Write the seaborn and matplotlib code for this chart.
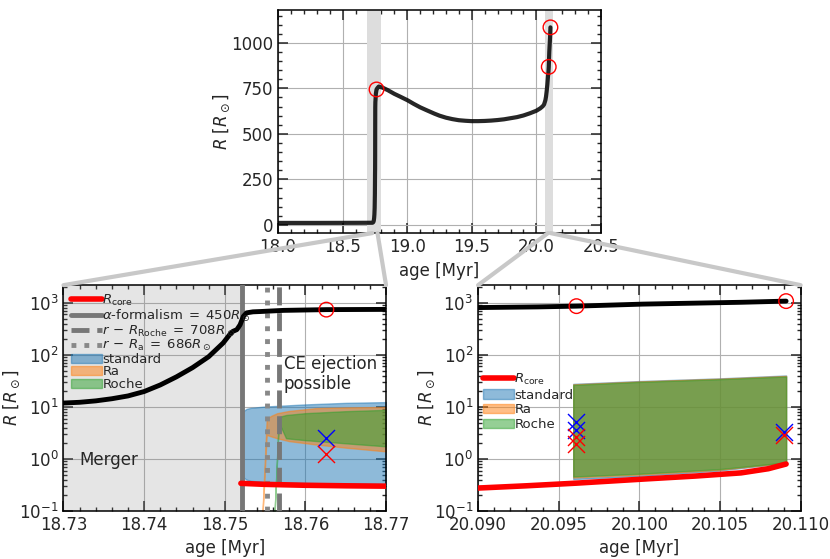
import matplotlib
matplotlib.use('Agg')
import matplotlib.pyplot as plt
import seaborn as sns
from matplotlib.patches import ConnectionPatch
from matplotlib.ticker import MultipleLocator, FormatStrFormatter

# radius evolution of the donor
track_age = [18.00, 18.30, 18.60, 18.70, 18.730, 18.732, 18.734, 18.736, 18.738,
             18.740, 18.742, 18.744, 18.746, 18.748, 18.7498, 18.7506, 18.7510,
             18.7515, 18.7519, 18.7523, 18.7527, 18.7535, 18.7544, 18.7573, 18.7626,
             18.77, 18.78, 18.809, 18.85, 18.90, 18.95, 19.004, 19.05, 19.10, 19.15,
             19.211, 19.25, 19.30, 19.35, 19.40, 19.45, 19.497, 19.55, 19.60, 19.65,
             19.70, 19.75, 19.80, 19.85, 19.90, 19.95, 20.00, 20.03, 20.05, 20.06,
             20.07, 20.075, 20.08, 20.085, 20.09, 20.0937, 20.0961, 20.1002, 20.1063,
             20.1091]
track_r = [11, 11, 11.5, 11.8, 11.9, 12.3, 13.1, 14.4, 16.3,
           19.8, 26.5, 37.9, 57.0, 92.5, 170, 245, 284,
           307, 380, 550, 645, 675, 684, 720, 744,
           752, 760, 754, 740, 720, 703, 684, 665, 646, 630,
           611, 600, 589, 581, 575, 572, 570, 570, 571, 573,
           576, 580, 586, 592, 601, 613, 627, 640, 652, 662,
           685, 705, 735, 770, 815, 840, 868, 950, 1030,
           1085]

circle_age = [18.7626, 20.0961, 20.1091]
circle_r = [744, 868, 1085]

# core radius
core_a_age = [18.752, 18.755, 18.76, 18.765, 18.77]
core_a_r = [0.34, 0.325, 0.312, 0.305, 0.30]
core_b_age = [20.09, 20.093, 20.0961, 20.1002, 20.1035, 20.1063, 20.108, 20.1091]
core_b_r = [0.276, 0.305, 0.343, 0.41, 0.47, 0.54, 0.65, 0.80]

# allowed companion radius ranges, first CE
std_a_age = [18.7521, 18.75215, 18.7523, 18.7527, 18.7532, 18.755, 18.76, 18.765, 18.77]
std_a_lo = [0.60, 0.52, 0.44, 0.40, 0.38, 0.36, 0.345, 0.335, 0.33]
std_a_hi = [6.0, 7.2, 8.3, 9.2, 9.6, 10.2, 11.2, 12.0, 12.4]
ra_a_age = [18.7546, 18.7552, 18.7558, 18.7565, 18.758, 18.7613, 18.765, 18.77]
ra_a_lo = [0.05, 2.9, 2.7, 2.5, 2.2, 1.9, 1.65, 1.4]
ra_a_hi = [0.05, 6.0, 6.8, 7.6, 8.4, 9.5, 9.8, 10.0]
roche_a_age = [18.7561, 18.7567, 18.7570, 18.7576, 18.760, 18.765, 18.77]
roche_a_lo = [0.05, 5.0, 4.0, 2.5, 2.3, 2.0, 1.75]
roche_a_hi = [0.05, 6.2, 6.6, 7.0, 7.6, 8.3, 8.8]

# second CE
fill_b_age = [20.0959, 20.1, 20.105, 20.1091]
std_b_lo = [0.41, 0.47, 0.60, 0.84]
std_b_hi = [27.8, 31.5, 35.5, 40.3]
ra_b_lo = [0.44, 0.50, 0.62, 0.85]
ra_b_hi = [27.2, 31.0, 35.0, 39.5]
roche_b_lo = [0.46, 0.52, 0.64, 0.86]
roche_b_hi = [26.5, 30.3, 34.2, 38.5]

# companion markers
cross_a_age = [18.7626]
cross_a_blue = [2.52]
cross_a_red = [1.23]
cross_b_age = [20.0961, 20.0961, 20.1090]
cross_b_blue = [5.07, 3.67, 3.3]
cross_b_red = [2.70, 1.97, 2.85]

alpha_age, roche_age, ra_age = 18.7521, 18.7567, 18.7552
spans_top = [(18.688, 18.794), (20.068, 20.132)]
zoom_a = (18.73, 18.77)
zoom_b = (20.09, 20.11)

sns.set_style('ticks')
plt.rcParams.update({
    'font.family': ['DejaVu Sans'],
    'xtick.direction': 'in', 'ytick.direction': 'in',
    'xtick.top': True, 'ytick.right': True,
    'xtick.major.size': 7, 'ytick.major.size': 7,
    'xtick.minor.size': 3, 'ytick.minor.size': 3,
    'xtick.major.width': 1.1, 'ytick.major.width': 1.1,
    'xtick.minor.width': 1.0, 'ytick.minor.width': 1.0,
    'xtick.labelsize': 12, 'ytick.labelsize': 12,
    'axes.labelsize': 12, 'axes.edgecolor': 'black',
    'axes.linewidth': 1.1,
    'axes.grid': True, 'grid.color': '#b0b0b0', 'grid.linewidth': 0.8,
})

fig = plt.figure(figsize=(8.3, 5.59), dpi=100)
ax_top = fig.add_axes([0.335, 0.583, 0.389, 0.399])
ax_a = fig.add_axes([0.0765, 0.0859, 0.3886, 0.404])
ax_b = fig.add_axes([0.576, 0.0859, 0.3886, 0.404])

ylab = r'$R\ [R_\odot]$'

# --- top: full track
for lo, hi in spans_top:
    ax_top.axvspan(lo, hi, color='#dddddd', lw=0, zorder=1)
sns.lineplot(x=track_age, y=track_r, ax=ax_top, color='k', lw=3, alpha=0.85, zorder=3)
sns.scatterplot(x=circle_age, y=circle_r, ax=ax_top, marker='o', s=110,
                facecolors='none', edgecolor='red', linewidth=1, zorder=4)
ax_top.set_xlim(18.0, 20.5)
ax_top.set_ylim(-45, 1180)
ax_top.xaxis.set_major_locator(MultipleLocator(0.5))
ax_top.xaxis.set_minor_locator(MultipleLocator(0.1))
ax_top.xaxis.set_major_formatter(FormatStrFormatter('%.1f'))
ax_top.yaxis.set_major_locator(MultipleLocator(250))
ax_top.yaxis.set_minor_locator(MultipleLocator(50))
ax_top.set_xlabel('age [Myr]')
ax_top.set_ylabel(ylab, labelpad=-1)


def draw_zoom(ax, core_age, core_r, fills, cx, cblue, cred):
    sns.lineplot(x=track_age, y=track_r, ax=ax, color='k', lw=3.5, zorder=5)
    core = ax.plot(core_age, core_r, color='red', lw=4, zorder=6,
                   label=r'$R_{\rm core}$')[0]
    polys = []
    for (age, lo, hi), col, lab in zip(fills, ['C0', 'C1', 'C2'],
                                       ['standard', 'Ra', 'Roche']):
        polys.append(ax.fill_between(age, lo, hi, color=col, alpha=0.5,
                                     label=lab, zorder=2))
    sns.scatterplot(x=circle_age, y=circle_r, ax=ax, marker='o', s=110,
                    facecolors='none', edgecolor='red', linewidth=1, zorder=7)
    sns.scatterplot(x=cx, y=cblue, ax=ax, marker='x', s=150, color='blue',
                    linewidth=1.0, zorder=7)
    sns.scatterplot(x=cx, y=cred, ax=ax, marker='x', s=150, color='red',
                    linewidth=1.0, zorder=7)
    ax.set_yscale('log')
    ax.set_ylim(0.1, 2200)
    ax.set_xlabel('age [Myr]')
    ax.set_ylabel(ylab, labelpad=-2)
    return core, polys


core_a, polys_a = draw_zoom(
    ax_a, core_a_age, core_a_r,
    [(std_a_age, std_a_lo, std_a_hi), (ra_a_age, ra_a_lo, ra_a_hi),
     (roche_a_age, roche_a_lo, roche_a_hi)],
    cross_a_age, cross_a_blue, cross_a_red)
ax_a.axvspan(zoom_a[0], alpha_age, color='gray', alpha=0.2, lw=0, zorder=1)
l_alpha = ax_a.axvline(alpha_age, color='#777777', lw=3.5, zorder=4,
                       label=r'$\alpha$-formalism$\;=\;450R_\odot$')
l_roche = ax_a.axvline(roche_age, color='#777777', lw=3.5, ls='--', zorder=4,
                       label=r'$r\,-\,R_{\rm Roche}\;=\;708R_\odot$')
l_ra = ax_a.axvline(ra_age, color='#888888', lw=3.5, ls=':', zorder=4,
                    label=r'$r\,-\,R_{\rm a}\;=\;686R_\odot$')
ax_a.text(18.7320, 0.95, 'Merger', fontsize=12, va='center', ha='left')
ax_a.text(18.7573, 43, 'CE ejection\npossible', fontsize=12, va='center', ha='left',
          linespacing=1.1)
ax_a.set_xlim(*zoom_a)
ax_a.xaxis.set_major_locator(MultipleLocator(0.01))
ax_a.xaxis.set_minor_locator(MultipleLocator(0.002))
ax_a.xaxis.set_major_formatter(FormatStrFormatter('%.2f'))
ax_a.legend(handles=[core_a, l_alpha, l_roche, l_ra] + polys_a, loc='upper left',
            frameon=False, fontsize=9.5, handlelength=2.3, handletextpad=0.05,
            labelspacing=-0.03, borderaxespad=0.3, borderpad=0.3)

core_b, polys_b = draw_zoom(
    ax_b, core_b_age, core_b_r,
    [(fill_b_age, std_b_lo, std_b_hi), (fill_b_age, ra_b_lo, ra_b_hi),
     (fill_b_age, roche_b_lo, roche_b_hi)],
    cross_b_age, cross_b_blue, cross_b_red)
ax_b.set_xlim(*zoom_b)
ax_b.xaxis.set_major_locator(MultipleLocator(0.005))
ax_b.xaxis.set_minor_locator(MultipleLocator(0.001))
ax_b.xaxis.set_major_formatter(FormatStrFormatter('%.3f'))
ax_b.legend(handles=[core_b] + polys_b, loc='center left', bbox_to_anchor=(0.0, 0.485),
            frameon=False, fontsize=9.5, handlelength=2.3, handletextpad=0.05,
            labelspacing=0.15, borderaxespad=0.2, borderpad=0.2)

for ax, (x0, x1) in [(ax_a, zoom_a), (ax_b, zoom_b)]:
    for xt, xb in [(x0, 0), (x1, 1)]:
        con = ConnectionPatch(xyA=(xt, 0), coordsA=ax_top.get_xaxis_transform(),
                              xyB=(xb, 1), coordsB=ax.transAxes,
                              color='#c8c8c8', lw=3)
        fig.add_artist(con)

fig.savefig('out.png', dpi=100)
